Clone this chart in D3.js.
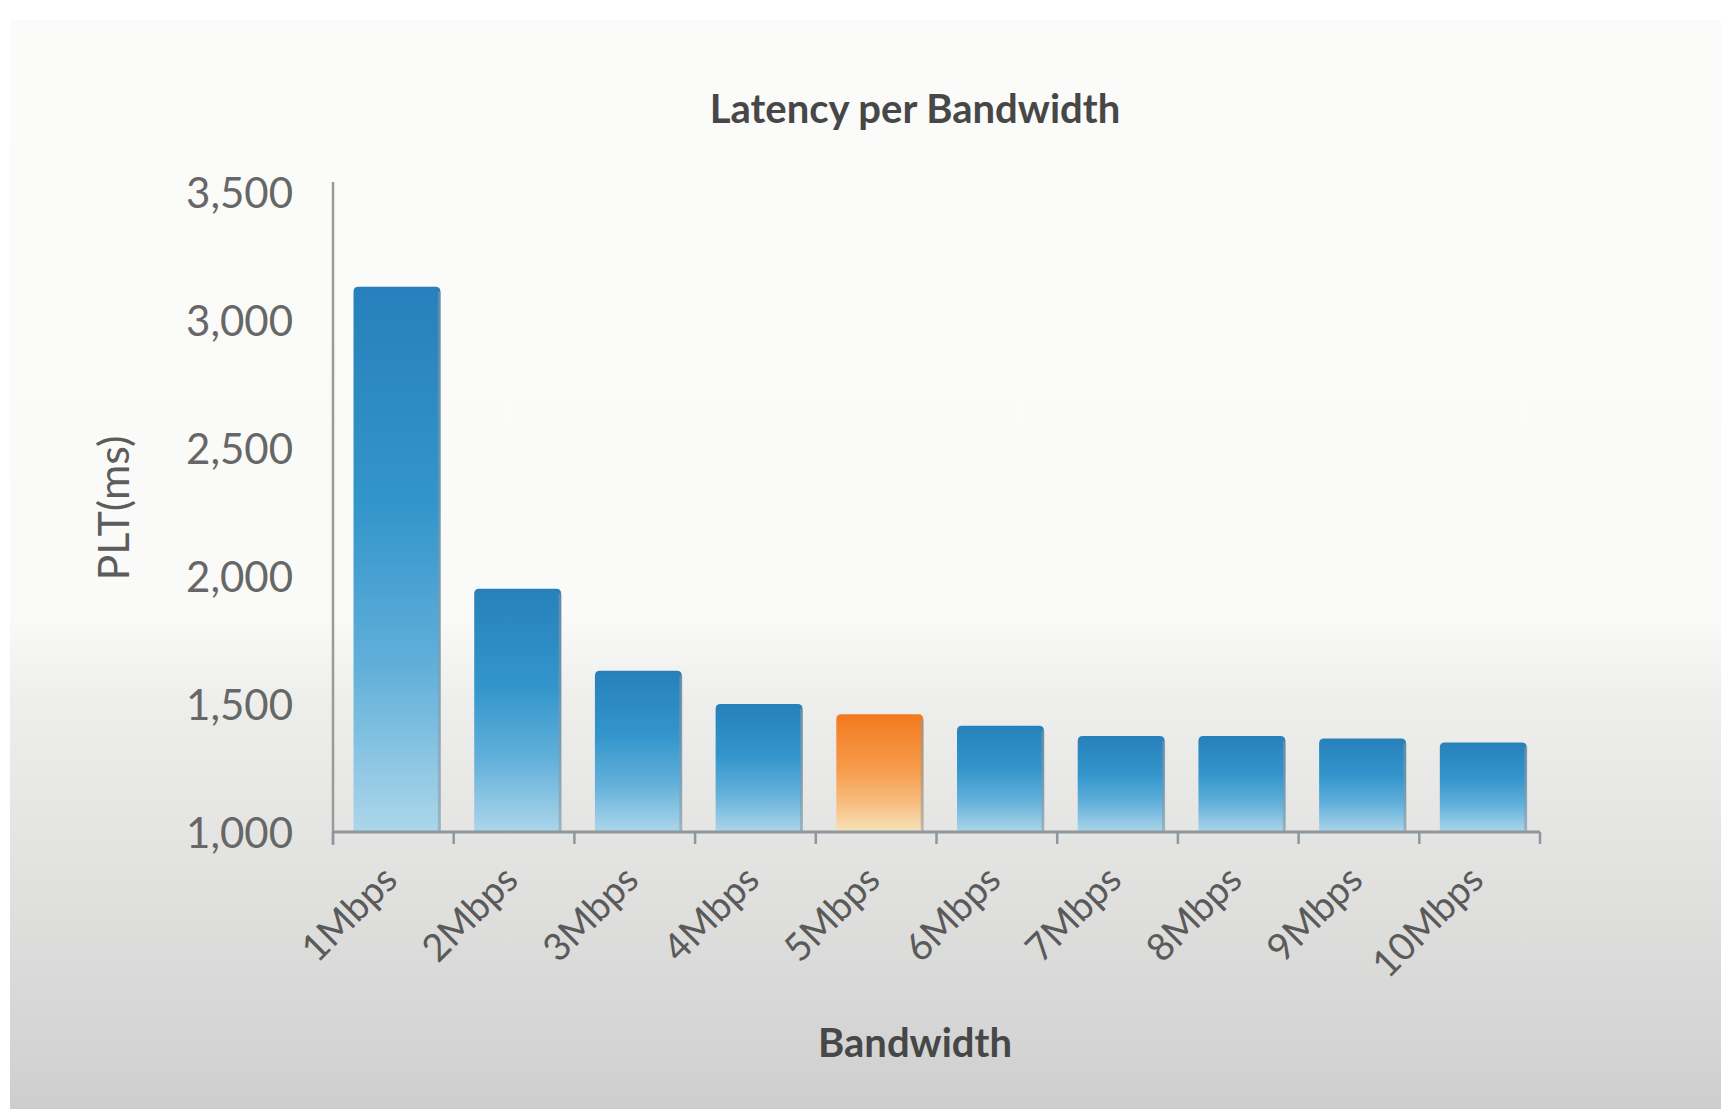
<!DOCTYPE html>
<html>
<head>
<meta charset="utf-8">
<script src="https://cdn.jsdelivr.net/npm/d3@7"></script>
<style>
  html, body { margin: 0; padding: 0; background: #ffffff; }
  svg { display: block; }
  text { font-family: Lato, "Open Sans", sans-serif; }
</style>
</head>
<body>
<svg id="chart" width="1721" height="1109"></svg>
<script>
// Page load time per link bandwidth
const categories = ["1Mbps", "2Mbps", "3Mbps", "4Mbps", "5Mbps", "6Mbps", "7Mbps", "8Mbps", "9Mbps", "10Mbps"];
const pltValues = [3130, 1950, 1630, 1500, 1460, 1415, 1375, 1375, 1365, 1350];
const highlighted = ["5Mbps"];
const yTickValues = [1000, 1500, 2000, 2500, 3000, 3500];
const chartTitle = "Latency per Bandwidth";
const xTitle = "Bandwidth";
const yTitle = "PLT(ms)";

const W = 1721, H = 1109;
const svg = d3.select("#chart");
const defs = svg.append("defs");

// Panel background: near white, fading to grey toward the bottom
const bg = defs.append("linearGradient").attr("id", "panelGrad")
  .attr("x1", 0).attr("y1", 0).attr("x2", 0).attr("y2", 1);
[[0, "#fbfbf9"], [0.545, "#fafaf8"], [0.625, "#eeeeec"], [0.79, "#e1e1e0"], [0.955, "#d3d3d3"], [1, "#cdcdcd"]]
  .forEach(([o, c]) => bg.append("stop").attr("offset", o).attr("stop-color", c));

const blueGrad = defs.append("linearGradient").attr("id", "barBlue")
  .attr("x1", 0).attr("y1", 0).attr("x2", 0).attr("y2", 1);
[[0, "#2780bb"], [0.4, "#3395cb"], [0.7, "#62b0da"], [1, "#acd6ea"]]
  .forEach(([o, c]) => blueGrad.append("stop").attr("offset", o).attr("stop-color", c));

const orangeGrad = defs.append("linearGradient").attr("id", "barOrange")
  .attr("x1", 0).attr("y1", 0).attr("x2", 0).attr("y2", 1);
[[0, "#f37a1e"], [0.45, "#f69a4a"], [0.75, "#f7bd7e"], [1, "#f6e3bb"]]
  .forEach(([o, c]) => orangeGrad.append("stop").attr("offset", o).attr("stop-color", c));

svg.append("rect").attr("x", 10).attr("y", 20)
  .attr("width", W - 10).attr("height", H - 20)
  .attr("fill", "url(#panelGrad)");

// Scales
const plot = { left: 333, right: 1540, top: 192, bottom: 832 };
const x = d3.scaleBand().domain(categories).range([plot.left, plot.right]).padding(0);
const y = d3.scaleLinear().domain([1000, 3500]).range([plot.bottom, plot.top]);
const bw = x.bandwidth();

// Bars (rounded top corners, slight shading on the right edge)
const r = 5;
const barX = d => x(d.cat) + bw * 0.17;
const barW = bw * 0.72;
const data = categories.map((c, i) => ({ cat: c, value: pltValues[i] }));

function barPath(d) {
  const x0 = barX(d), x1 = x0 + barW, y0 = y(d.value), yb = y(1000);
  return `M${x0},${yb} L${x0},${y0 + r} Q${x0},${y0} ${x0 + r},${y0} L${x1 - r},${y0} Q${x1},${y0} ${x1},${y0 + r} L${x1},${yb} Z`;
}

const bars = svg.append("g").attr("class", "bars");
bars.selectAll("path.bar").data(data).join("path")
  .attr("class", "bar")
  .attr("d", barPath)
  .attr("fill", d => highlighted.includes(d.cat) ? "url(#barOrange)" : "url(#barBlue)");

bars.selectAll("line.edge").data(data).join("line")
  .attr("class", "edge")
  .attr("x1", d => barX(d) + barW - 1).attr("x2", d => barX(d) + barW - 1)
  .attr("y1", d => y(d.value) + r).attr("y2", y(1000))
  .attr("stroke", "#8d979e").attr("stroke-width", 3).attr("stroke-opacity", 0.55);

// Y axis
const yAxis = d3.axisLeft(y).tickValues(yTickValues).tickSize(0).tickPadding(40)
  .tickFormat(d3.format(","));
const gy = svg.append("g").attr("transform", `translate(${plot.left},0)`).call(yAxis);
gy.select(".domain").remove();
gy.selectAll("text")
  .attr("fill", "#676767").attr("font-size", 42).attr("font-weight", 400)
  .attr("dy", "0.36em");
svg.append("line")
  .attr("x1", plot.left).attr("x2", plot.left)
  .attr("y1", y(3500) - 10).attr("y2", y(1000) + 13)
  .attr("stroke", "#9a9a9a").attr("stroke-width", 2.5);

// X axis: baseline with ticks on the category boundaries
const gx = svg.append("g").attr("class", "x-axis");
gx.append("line")
  .attr("x1", plot.left).attr("x2", plot.right)
  .attr("y1", y(1000)).attr("y2", y(1000))
  .attr("stroke", "#8e979d").attr("stroke-width", 3);
const boundaries = categories.map(c => x(c)).concat([x(categories[categories.length - 1]) + bw]);
gx.selectAll("line.tick").data(boundaries).join("line")
  .attr("class", "tick")
  .attr("x1", d => d).attr("x2", d => d)
  .attr("y1", y(1000)).attr("y2", y(1000) + 12)
  .attr("stroke", "#8e979d").attr("stroke-width", 2.5);
gx.selectAll("text").data(categories).join("text")
  .attr("transform", c => `translate(${x(c) + bw / 2 + 6},${y(1000) + 50}) rotate(-45)`)
  .attr("text-anchor", "end")
  .attr("fill", "#5a5a5a").attr("font-size", 38)
  .text(c => c);

// Titles
svg.append("text")
  .attr("x", 915).attr("y", 123)
  .attr("text-anchor", "middle")
  .attr("fill", "#474747").attr("font-size", 40).attr("font-weight", 700)
  .text(chartTitle);

svg.append("text")
  .attr("x", 915).attr("y", 1057)
  .attr("text-anchor", "middle")
  .attr("fill", "#474747").attr("font-size", 40).attr("font-weight", 700)
  .text(xTitle);

svg.append("text")
  .attr("transform", `translate(129,508) rotate(-90)`)
  .attr("text-anchor", "middle")
  .attr("fill", "#5c5c5c").attr("font-size", 43)
  .text(yTitle);
</script>
</body>
</html>
